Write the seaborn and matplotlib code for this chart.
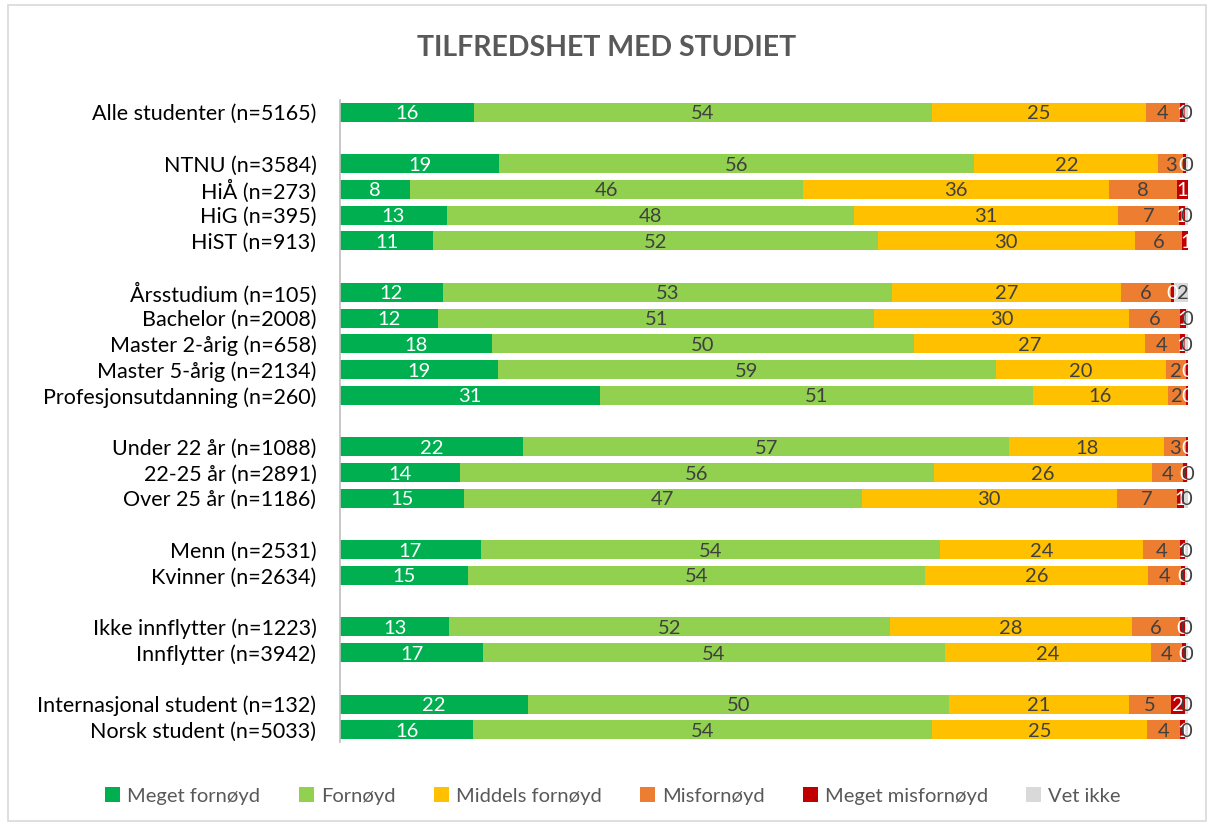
import numpy as np
import pandas as pd
import matplotlib
matplotlib.use('Agg')
import matplotlib.pyplot as plt
import seaborn as sns
from matplotlib.patches import Patch, Rectangle

# radene (tomme strenger = mellomrom mellom gruppene)
groups = ['Alle studenter (n=5165)', '',
          'NTNU (n=3584)', 'HiÅ (n=273)', 'HiG (n=395)', 'HiST (n=913)', '',
          'Årsstudium (n=105)', 'Bachelor (n=2008)', 'Master 2-årig (n=658)',
          'Master 5-årig (n=2134)', 'Profesjonsutdanning (n=260)', '',
          'Under 22 år (n=1088)', '22-25 år (n=2891)', 'Over 25 år (n=1186)', '',
          'Menn (n=2531)', 'Kvinner (n=2634)', '',
          'Ikke innflytter (n=1223)', 'Innflytter (n=3942)', '',
          'Internasjonal student (n=132)', 'Norsk student (n=5033)']

categories = ['Meget fornøyd', 'Fornøyd', 'Middels fornøyd', 'Misfornøyd',
              'Meget misfornøyd', 'Vet ikke']

# prosent, en liste per kategori (samme rekkefølge som rader uten mellomrom)
meget_fornoyd = [15.8, 18.8, 8.3, 12.6, 11.0, 12.1, 11.6, 17.9, 18.6, 30.7,
                 21.6, 14.2, 14.6, 16.6, 15.1, 12.9, 16.9, 22.2, 15.7]
fornoyd = [54.0, 56.0, 46.3, 48.0, 52.4, 53.0, 51.4, 49.8, 58.7, 51.0,
           57.3, 55.8, 46.9, 54.1, 53.9, 52.0, 54.4, 49.6, 54.1]
middels = [25.2, 21.7, 36.1, 31.2, 30.3, 27.0, 30.0, 27.2, 20.1, 15.9,
           18.3, 25.8, 30.1, 24.0, 26.3, 28.5, 24.3, 21.2, 25.4]
misfornoyd = [4.0, 2.9, 8.0, 7.1, 5.6, 5.9, 6.1, 4.1, 2.4, 2.2,
              2.6, 3.6, 7.1, 4.4, 3.9, 5.7, 3.7, 5.0, 3.9]
meget_misfornoyd = [0.7, 0.4, 1.3, 0.7, 0.9, 0.3, 0.7, 0.6, 0.2, 0.2,
                    0.2, 0.5, 0.8, 0.6, 0.5, 0.5, 0.5, 1.7, 0.6]
vet_ikke = [0.3, 0.2, 0.0, 0.4, 0.0, 2.1, 0.2, 0.4, 0.0, 0.0,
            0.0, 0.3, 0.5, 0.3, 0.3, 0.4, 0.3, 0.3, 0.3]

colors = ['#00B050', '#92D050', '#FFC000', '#ED7D31', '#C00000', '#D9D9D9']
label_colors = ['white', '#404040', '#404040', '#404040', 'white', '#404040']

# dataframe
pos = [i for i, g in enumerate(groups) if g != '']
names = [g for g in groups if g != '']
df = pd.DataFrame({'pos': pos, 'name': names})
for c, v in zip(categories, [meget_fornoyd, fornoyd, middels, misfornoyd,
                             meget_misfornoyd, vet_ikke]):
    df[c] = v

cum = df[categories].cumsum(axis=1)

plt.rcParams['font.family'] = ['Lato', 'DejaVu Sans']
fig = plt.figure(figsize=(12.14, 8.25), dpi=100)
W, H = 1214, 825
ax = fig.add_axes([340 / W, 1 - 742 / H, (1188 - 340) / W, (742 - 100) / H])

# stablet: tegn kumulativ sum fra størst til minst
for i in range(len(categories) - 1, -1, -1):
    sns.barplot(x=cum[categories[i]].values, y=df['pos'].values, orient='h',
                native_scale=True, color=colors[i], saturation=1,
                width=0.74, ax=ax, linewidth=0)

# tall-etiketter
for r in range(len(df)):
    left = 0
    for i, c in enumerate(categories):
        v = df[c].iloc[r]
        if v > 0:
            ax.text(left + v / 2, df['pos'].iloc[r] + 0.06, f'{v:.0f}',
                    ha='center', va='center', fontsize=14.5,
                    color=label_colors[i])
        left += v

ax.set_xlim(0, 100)
ax.set_ylim(24.47, -0.47)
ax.set_yticks(pos)
ax.set_yticklabels(names, fontsize=15.5, color='black')
ax.set_xticks([])
ax.set_xlabel('')
ax.set_ylabel('')
ax.tick_params(axis='y', length=0, pad=17)
for s in ['top', 'right', 'bottom']:
    ax.spines[s].set_visible(False)
ax.spines['left'].set_color('#BFBFBF')
ax.spines['left'].set_linewidth(1.2)
ax.set_facecolor('none')

fig.text(0.5, 1 - 48 / H, 'TILFREDSHET MED STUDIET', ha='center', va='center',
         fontsize=20.5, fontweight='bold', color='#595959')

handles = [Patch(facecolor=c, edgecolor='none') for c in colors]
leg = fig.legend(handles, categories, loc='center', ncol=6,
                 bbox_to_anchor=(0.505, 1 - 796 / H), frameon=False,
                 fontsize=14.5, handlelength=0.75, handleheight=0.75,
                 handletextpad=0.35, columnspacing=1.9)
for t in leg.get_texts():
    t.set_color('#595959')

fig.patches.append(Rectangle((8 / W, 4 / H), 1198 / W, 816 / H,
                             transform=fig.transFigure, fill=False,
                             edgecolor='#D9D9D9', linewidth=1.2))

plt.savefig('out.png', dpi=100)
